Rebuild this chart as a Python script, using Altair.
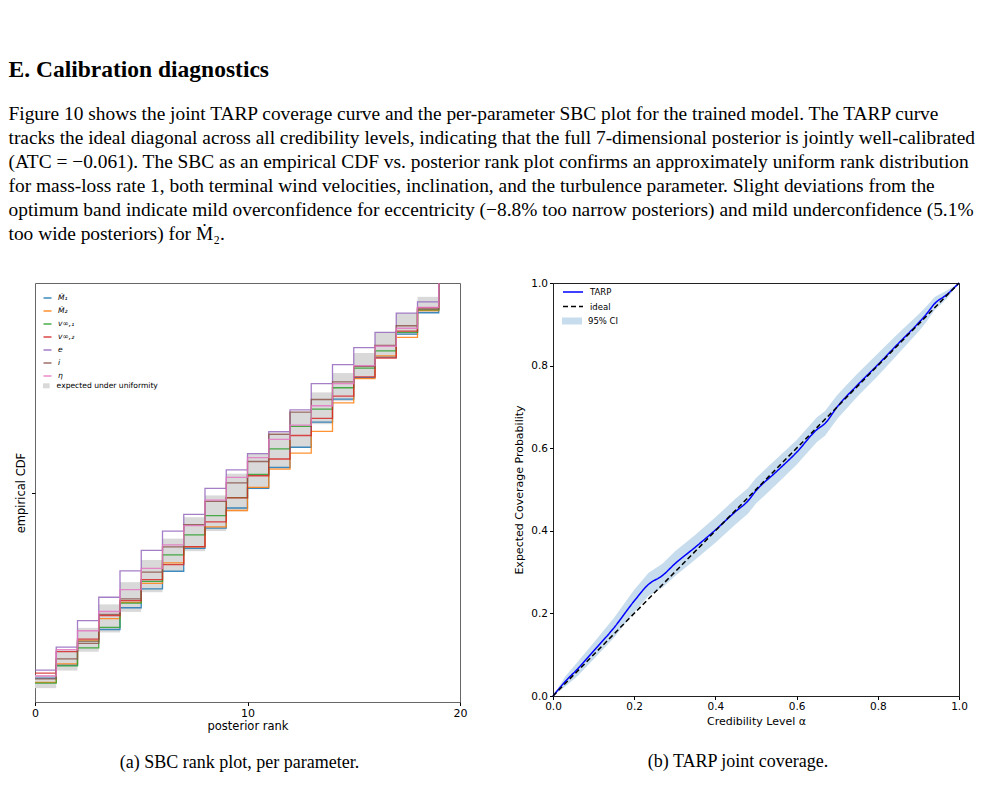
import altair as alt
import pandas as pd

# ---------------- text ----------------
heading = "E. Calibration diagnostics"
body_lines = [
    "Figure 10 shows the joint TARP coverage curve and the per-parameter SBC plot for the trained model. The TARP curve",
    "tracks the ideal diagonal across all credibility levels, indicating that the full 7-dimensional posterior is jointly well-calibrated",
    "(ATC = \u22120.061). The SBC as an empirical CDF vs. posterior rank plot confirms an approximately uniform rank distribution",
    "for mass-loss rate 1, both terminal wind velocities, inclination, and the turbulence parameter. Slight deviations from the",
    "optimum band indicate mild overconfidence for eccentricity (\u22128.8% too narrow posteriors) and mild underconfidence (5.1%",
    "too wide posteriors) for \u1e40\u2082.",
]
caption_a = "(a) SBC rank plot, per parameter."
caption_b = "(b) TARP joint coverage."

# ---------------- SBC data (left panel) ----------------
ranks = list(range(20))
param_labels = ["\u1e40\u2081", "\u1e40\u2082", "v\u221e,\u2081", "v\u221e,\u2082", "e", "i", "\u03b7"]
param_colors = ["#1f77b4", "#ff7f0e", "#2ca02c", "#d62728", "#9467bd", "#8c564b", "#e377c2"]
cdf_M1 = [0.057, 0.088, 0.145, 0.173, 0.225, 0.270, 0.312, 0.367, 0.415, 0.463, 0.510, 0.560, 0.608, 0.668, 0.723, 0.774, 0.823, 0.878, 0.929, 1.0]
cdf_M2 = [0.047, 0.091, 0.146, 0.199, 0.238, 0.283, 0.332, 0.370, 0.418, 0.457, 0.512, 0.556, 0.594, 0.646, 0.714, 0.772, 0.826, 0.870, 0.934, 1.0]
cdf_v1 = [0.045, 0.086, 0.129, 0.178, 0.236, 0.288, 0.351, 0.399, 0.445, 0.488, 0.543, 0.604, 0.658, 0.699, 0.750, 0.797, 0.838, 0.882, 0.936, 1.0]
cdf_v2 = [0.069, 0.120, 0.150, 0.206, 0.242, 0.292, 0.328, 0.371, 0.430, 0.487, 0.540, 0.580, 0.636, 0.677, 0.730, 0.776, 0.821, 0.885, 0.941, 1.0]
cdf_e = [0.076, 0.131, 0.194, 0.250, 0.313, 0.362, 0.408, 0.448, 0.510, 0.554, 0.593, 0.645, 0.697, 0.760, 0.805, 0.846, 0.882, 0.928, 0.955, 1.0]
cdf_i = [0.055, 0.103, 0.140, 0.209, 0.246, 0.310, 0.370, 0.423, 0.479, 0.523, 0.574, 0.639, 0.692, 0.722, 0.764, 0.801, 0.851, 0.898, 0.938, 1.0]
cdf_eta = [0.062, 0.125, 0.170, 0.216, 0.268, 0.319, 0.375, 0.421, 0.482, 0.536, 0.583, 0.627, 0.661, 0.707, 0.760, 0.803, 0.849, 0.892, 0.942, 1.0]
all_cdfs = [cdf_M1, cdf_M2, cdf_v1, cdf_v2, cdf_e, cdf_i, cdf_eta]

band_rank = list(range(19))
band_lo = [0.033, 0.075, 0.120, 0.166, 0.215, 0.262, 0.313, 0.360, 0.408, 0.455, 0.508, 0.556, 0.607, 0.663, 0.718, 0.772, 0.823, 0.876, 0.929]
band_hi = [0.064, 0.124, 0.177, 0.233, 0.286, 0.339, 0.390, 0.441, 0.493, 0.545, 0.592, 0.640, 0.693, 0.739, 0.785, 0.833, 0.882, 0.928, 0.967]
band_label = "expected under uniformity"

# ---------------- TARP data (right panel) ----------------
alpha_grid = [0.0, 0.03, 0.06, 0.10, 0.15, 0.20, 0.235, 0.27, 0.30, 0.35, 0.40, 0.45, 0.48, 0.50, 0.55, 0.60, 0.65, 0.67, 0.70, 0.75, 0.80, 0.85, 0.90, 0.92, 0.94, 0.97, 1.0]
tarp_cov = [0.0, 0.035, 0.065, 0.109, 0.165, 0.230, 0.270, 0.292, 0.320, 0.360, 0.402, 0.447, 0.472, 0.497, 0.543, 0.590, 0.645, 0.660, 0.700, 0.753, 0.802, 0.853, 0.903, 0.925, 0.950, 0.972, 1.0]
ci_lo = [0.0, 0.023, 0.048, 0.089, 0.141, 0.203, 0.242, 0.263, 0.290, 0.330, 0.371, 0.416, 0.441, 0.466, 0.512, 0.560, 0.615, 0.630, 0.671, 0.725, 0.775, 0.828, 0.882, 0.906, 0.934, 0.962, 1.0]
ci_hi = [0.0, 0.047, 0.082, 0.129, 0.189, 0.257, 0.298, 0.321, 0.350, 0.390, 0.433, 0.478, 0.503, 0.528, 0.574, 0.620, 0.675, 0.690, 0.729, 0.781, 0.829, 0.878, 0.924, 0.944, 0.966, 0.982, 1.0]
ideal_x = [0.0, 1.0]
ideal_y = [0.0, 1.0]
line_labels = ["TARP", "ideal"]
ci_label = "95% CI"

SANS = "DejaVu Sans"
SERIF = "Liberation Serif"
RECT_SYM_L = "M-1,-0.75H1V0.75H-1Z"
LINE_SYM_R = "M-2,0H2"
RECT_SYM_R = "M-2,-0.7H2V0.7H-2Z"

# ---------------- left panel ----------------
xs_l = alt.Scale(domain=[0, 20], nice=False, zero=False)
ys_l = alt.Scale(domain=[0, 1], nice=False, zero=False)

band_df = pd.DataFrame({"r0": band_rank, "r1": [r + 1 for r in band_rank],
                        "lo": band_lo, "hi": band_hi, "kind": [band_label] * len(band_rank)})

x_axis_l = alt.Axis(values=[0, 10, 20], title="posterior rank", grid=False, domain=False,
                    labelFont=SANS, labelFontSize=11, titleFont=SANS, titleFontSize=11.5,
                    titleFontWeight="normal", tickSize=3.5, tickColor="#000", labelColor="#000",
                    titleColor="#000", labelPadding=2, titlePadding=2, labelFlush=False)
y_axis_l = alt.Axis(values=[0.5], labels=False, title="empirical CDF", grid=False, domain=False,
                    titleFont=SANS, titleFontSize=11.5, titleFontWeight="normal", tickSize=3.5,
                    tickColor="#000", titleColor="#000", titlePadding=5)

band = alt.Chart(band_df).mark_rect(opacity=1).encode(
    x=alt.X("r0:Q", scale=xs_l, axis=x_axis_l),
    x2="r1:Q",
    y=alt.Y("lo:Q", scale=ys_l, axis=y_axis_l),
    y2="hi:Q",
    fill=alt.Fill("kind:N", scale=alt.Scale(domain=[band_label], range=["#d9d9d9"]),
                  legend=alt.Legend(title=None, orient="none", legendX=7.5, legendY=99,
                                    symbolType=RECT_SYM_L, symbolSize=45, symbolStrokeWidth=0,
                                    labelFont=SANS, labelFontSize=7.6, labelColor="#000",
                                    padding=0, labelOffset=6.5)),
)

line_layers = []
for lab, vals in zip(param_labels, all_cdfs):
    df = pd.DataFrame({"rank": ranks, "cdf": vals, "param": [lab] * len(ranks)})
    line_layers.append(
        alt.Chart(df).mark_line(interpolate="step-after", strokeWidth=1.3, opacity=0.85).encode(
            x=alt.X("rank:Q", scale=xs_l),
            y=alt.Y("cdf:Q", scale=ys_l),
            color=alt.Color("param:N", scale=alt.Scale(domain=param_labels, range=param_colors),
                            legend=alt.Legend(title=None, orient="none", legendX=7.5, legendY=10,
                                              symbolType="stroke", symbolSize=64,
                                              symbolStrokeWidth=1.5, labelFont=SANS,
                                              labelFontSize=7.6, labelFontStyle="italic",
                                              labelColor="#000", padding=0, labelOffset=5.5,
                                              rowPadding=4)),
        )
    )

left = alt.layer(band, *line_layers).properties(
    width=425, height=419,
    view=alt.ViewBackground(stroke="#666", strokeWidth=1),
    title=alt.TitleParams(caption_a, orient="bottom", anchor="middle", font=SERIF, fontSize=18,
                          fontWeight="normal", color="#000", offset=22, dx=-8),
)

# ---------------- right panel ----------------
xs_r = alt.Scale(domain=[0, 1], nice=False, zero=False)
ys_r = alt.Scale(domain=[0, 1], nice=False, zero=False)
tick_vals = [0.0, 0.2, 0.4, 0.6, 0.8, 1.0]

x_axis_r = alt.Axis(values=tick_vals, format=".1f", title="Credibility Level \u03b1", grid=False,
                    domain=False, labelFont=SANS, labelFontSize=10.5, titleFont=SANS,
                    titleFontSize=11, titleFontWeight="normal", tickSize=3.5, tickColor="#000",
                    labelColor="#000", titleColor="#000", labelPadding=2, titlePadding=3,
                    labelFlush=False)
y_axis_r = alt.Axis(values=tick_vals, format=".1f", title="Expected Coverage Probability",
                    grid=False, domain=False, labelFont=SANS, labelFontSize=10.5, titleFont=SANS,
                    titleFontSize=11, titleFontWeight="normal", tickSize=3.5, tickColor="#000",
                    labelColor="#000", titleColor="#000", labelPadding=2, titlePadding=6,
                    labelFlush=False)

tarp_df = pd.DataFrame({"alpha": alpha_grid, "cov": tarp_cov, "lo": ci_lo, "hi": ci_hi,
                        "series": ["TARP"] * len(alpha_grid), "ci": [ci_label] * len(alpha_grid)})
ideal_df = pd.DataFrame({"alpha": ideal_x, "cov": ideal_y, "series": ["ideal"] * 2})

line_legend = alt.Legend(title=None, orient="none", legendX=14, legendY=3, symbolType=LINE_SYM_R,
                         symbolSize=100, symbolStrokeWidth=1.5, labelFont=SANS, labelFontSize=8.5,
                         labelColor="#000", padding=0, labelOffset=11, rowPadding=3.5)
color_r = alt.Color("series:N", scale=alt.Scale(domain=line_labels, range=["#0000ff", "#000000"]),
                    legend=line_legend)
dash_r = alt.StrokeDash("series:N", scale=alt.Scale(domain=line_labels, range=[[1, 0], [5, 3]]),
                        legend=line_legend)

ci_area = alt.Chart(tarp_df).mark_area(opacity=1).encode(
    x=alt.X("alpha:Q", scale=xs_r, axis=x_axis_r),
    y=alt.Y("lo:Q", scale=ys_r, axis=y_axis_r),
    y2="hi:Q",
    fill=alt.Fill("ci:N", scale=alt.Scale(domain=[ci_label], range=["#c7dded"]),
                  legend=alt.Legend(title=None, orient="none", legendX=14, legendY=33,
                                    symbolType=RECT_SYM_R, symbolSize=100, symbolStrokeWidth=0,
                                    labelFont=SANS, labelFontSize=8.5, labelColor="#000",
                                    padding=0, labelOffset=11)),
)
tarp_line = alt.Chart(tarp_df).mark_line(strokeWidth=1.5, interpolate="monotone").encode(
    x=alt.X("alpha:Q", scale=xs_r), y=alt.Y("cov:Q", scale=ys_r), color=color_r, strokeDash=dash_r)
ideal_line = alt.Chart(ideal_df).mark_line(strokeWidth=1.5).encode(
    x=alt.X("alpha:Q", scale=xs_r), y=alt.Y("cov:Q", scale=ys_r), color=color_r, strokeDash=dash_r)

right = alt.layer(ci_area, tarp_line, ideal_line).properties(
    width=406, height=413,
    view=alt.ViewBackground(stroke="#222", strokeWidth=1),
    title=alt.TitleParams(caption_b, orient="bottom", anchor="middle", font=SERIF, fontSize=18,
                          fontWeight="normal", color="#000", offset=27, dx=-18),
)

chart = alt.hconcat(left, right, spacing=93, bounds="flush").resolve_scale(
    color="independent", fill="independent", strokeDash="independent"
).resolve_legend(color="independent", fill="independent", strokeDash="independent").properties(
    title=alt.TitleParams(heading, subtitle=body_lines, anchor="start", font=SERIF, fontSize=23.5,
                          fontWeight="bold", color="#000", subtitleFont=SERIF,
                          subtitleFontSize=19.4, subtitleColor="#000", subtitleLineHeight=24,
                          subtitlePadding=23.5, offset=34, dx=-6),
    padding={"left": 8, "top": 58, "right": 5, "bottom": 5},
).configure(background="white")

chart.save("out.html", embed_options={"renderer": "svg", "actions": False})
